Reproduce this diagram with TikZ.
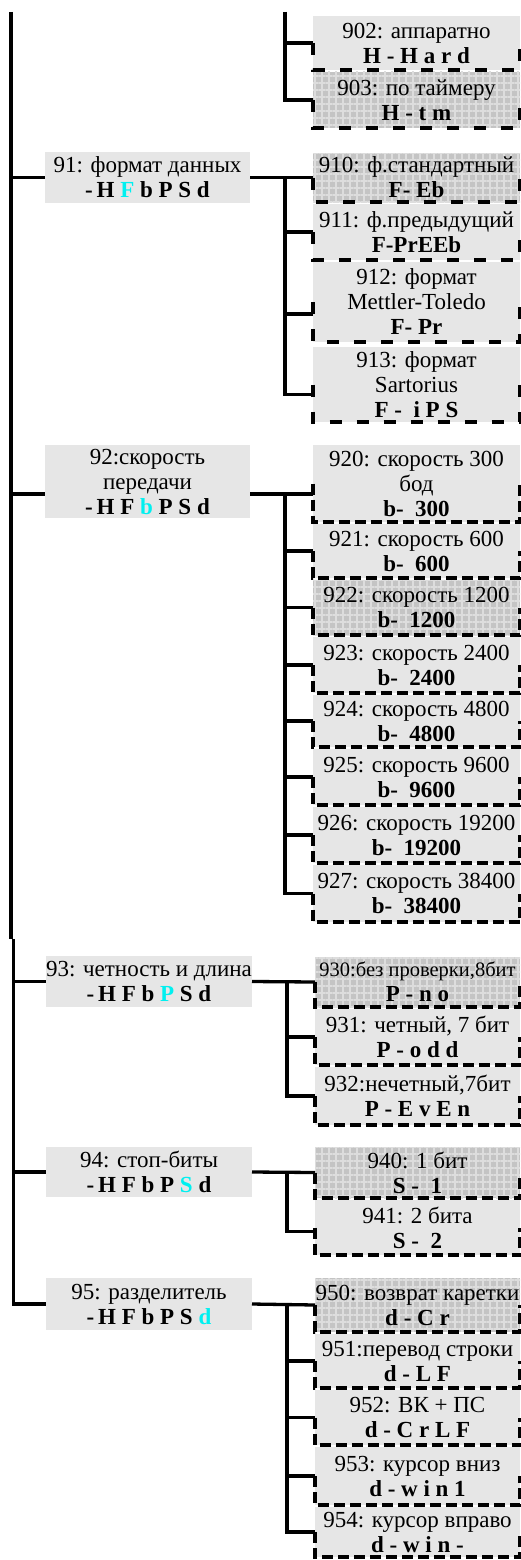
\documentclass[tikz,border=0pt]{standalone}
\usepackage{fontspec}
\setmainfont{Liberation Serif}
\usetikzlibrary{positioning,patterns.meta}
\definecolor{boxc}{HTML}{E6E6E6}
\definecolor{hatchc}{HTML}{C4C4C4}
\definecolor{gridc}{HTML}{DDDDDD}
\definecolor{selc}{HTML}{00F0F0}
\newcommand{\sel}[1]{\textcolor{selc}{#1}}
\tikzset{
  mbox/.style={fill=boxc, minimum width=205pt, inner sep=0pt, outer sep=0pt, align=center, font=\fontsize{23}{25}\selectfont},
  sbox/.style={mbox, minimum width=207pt},
  sboxb/.style={mbox, minimum width=205pt},
  hatch/.style={fill=hatchc, postaction={pattern={Hatch[angle=0,distance=7pt,line width=1.3pt]}, pattern color=gridc}},
  conn/.style={line width=3.3pt},
  dsparse/.style={line width=3.6pt, dash pattern=on 12pt off 15pt},
  ddense/.style={line width=3.6pt, dash pattern=on 11pt off 5pt},
}

\begin{document}
\begin{tikzpicture}[x=1pt, y=-1pt]
  \useasboundingbox (0,0) rectangle (521,1560);
  % main menu items
  \node[mbox, minimum height=51pt, anchor=north west] (m91) at (45,152) {91: формат данных\\\textbf{-\,H \sel{F} b P S d}};
  \node[mbox, minimum height=73pt, anchor=north west] (m92) at (45,445) {92:скорость\\передачи\\\textbf{-\,H F \sel{b} P S d}};
  \node[mbox, minimum height=51pt, minimum width=206pt, anchor=north west] (m93) at (46,956) {93: четность и длина\\\textbf{-\,H F b \sel{P} S d}};
  \node[mbox, minimum height=50pt, minimum width=206pt, anchor=north west] (m94) at (46,1147) {94: стоп-биты\\\textbf{-\,H F b P \sel{S} d}};
  \node[mbox, minimum height=52pt, minimum width=206pt, anchor=north west] (m95) at (46,1278) {95: разделитель\\\textbf{-\,H F b P S \sel{d}}};
  % 90x
  \node[sbox, minimum height=54pt, anchor=north west] (s902) at (313,16) {902: аппаратно\\\textbf{H - H a r d}};
  \node[sbox, hatch, minimum height=56pt, below=2pt of s902] (s903) {903: по таймеру\\\textbf{H - t m}};
  % 91x
  \node[sbox, hatch, minimum height=49pt, anchor=north west] (s910) at (313,153) {910: ф.стандартный\\\textbf{F- Eb}};
  \node[sbox, minimum height=56pt, below=2pt of s910] (s911) {911: ф.предыдущий\\\textbf{F-PrEEb}};
  \node[sbox, minimum height=80pt, below=2pt of s911] (s912) {912: формат\\Mettler-Toledo\\\textbf{F- Pr}};
  \node[sbox, minimum height=75pt, below=5pt of s912] (s913) {913: формат\\Sartorius\\\textbf{F -\ \ i P S}};
  % 92x
  \node[sbox, minimum height=77pt, anchor=north west] (s920) at (313,445) {920: скорость 300\\бод\\\textbf{b-\ \ 300}};
  \node[sbox, minimum height=54pt, below=2pt of s920] (s921) {921: скорость 600\\\textbf{b-\ \ 600}};
  \node[sbox, hatch, minimum height=55pt, below=2pt of s921] (s922) {922: скорость 1200\\\textbf{b-\ \ 1200}};
  \node[sbox, minimum height=56pt, below=2pt of s922] (s923) {923: скорость 2400\\\textbf{b-\ \ 2400}};
  \node[sbox, minimum height=52pt, below=2pt of s923] (s924) {924: скорость 4800\\\textbf{b-\ \ 4800}};
  \node[sbox, minimum height=56pt, below=2pt of s924] (s925) {925: скорость 9600\\\textbf{b-\ \ 9600}};
  \node[sbox, minimum height=56pt, below=2pt of s925] (s926) {926: скорость 19200\\\textbf{b-\ \ 19200}};
  \node[sbox, minimum height=57pt, below=2pt of s926] (s927) {927: скорость 38400\\\textbf{b-\ \ 38400}};
  % 93x
  \node[sboxb, hatch, minimum height=50pt, anchor=north west] (s930) at (315,957) {{\fontsize{20.5}{25}\selectfont 930:без проверки,8бит}\\\textbf{P - n o}};
  \node[sboxb, minimum height=56pt, below=2pt of s930] (s931) {931: четный, 7 бит\\\textbf{P - o d d}};
  \node[sboxb, minimum height=58pt, below=2pt of s931] (s932) {932:нечетный,7бит\\\textbf{P - E v E n}};
  % 94x
  \node[sboxb, hatch, minimum height=51pt, anchor=north west] (s940) at (315,1147) {940: 1 бит\\\textbf{S -\ \ 1}};
  \node[sboxb, minimum height=55pt, below=2pt of s940] (s941) {941: 2 бита\\\textbf{S -\ \ 2}};
  % 95x
  \node[sboxb, hatch, minimum height=54pt, anchor=north west] (s950) at (315,1278) {950: возврат каретки\\\textbf{d - C r}};
  \node[sboxb, minimum height=54pt, below=2pt of s950] (s951) {951:перевод строки\\\textbf{d - L F}};
  \node[sboxb, minimum height=55pt, below=2pt of s951] (s952) {952: ВК + ПС\\\textbf{d - C r L F}};
  \node[sboxb, minimum height=58pt, below=2pt of s952] (s953) {953: курсор вниз\\\textbf{d - w i n 1}};
  \node[sboxb, minimum height=50pt, below=2pt of s953] (s954) {954: курсор вправо\\\textbf{d - w i n -}};

  % dashed frames
  \foreach \n in {s902,s903,s910,s911,s912,s913}
    \draw[dsparse] (\n.west) |- (\n.south) -| (\n.east);
  \foreach \n in {s920,s921,s922,s923,s924,s925,s926,s927,s930,s931,s932,s940,s941,s950,s951,s952,s953,s954}
    \draw[ddense] (\n.west) |- (\n.south) -| (\n.east);

  % main trunk
  \coordinate (top) at (11,12);
  \coordinate (brk) at (11,939);
  \coordinate (brk2) at (13.5,939);
  \coordinate (r92) at ([yshift=-12.5pt]m92.west);
  \draw[conn] (top) -- (brk); \draw[conn] (brk2) |- (m95.west);
  \draw[conn] (top |- m91.west) -- (m91.west); \draw[conn] (top |- r92) -- (r92);
  \draw[conn] (brk2 |- m93.west) -- (m93.west); \draw[conn] (brk2 |- m94.west) -- (m94.west);

  % 90x branches
  \coordinate (j90) at (285,12);
  \draw[conn] (j90) |- (s902.west); \draw[conn] (j90) |- (s903.west);
  % 91x branches
  \coordinate (j91) at (285,177.5);
  \draw[conn] (m91.east) -- (s910.west);
  \draw[conn] (j91) |- (s911.west); \draw[conn] (j91) |- ([yshift=-12pt]s912.west);
  \draw[conn] (j91) |- ([yshift=-10pt]s913.west);
  % 92x branches
  \coordinate (j92) at (285,494);
  \draw[conn] ([yshift=-12.5pt]m92.east) -- ([yshift=-10.5pt]s920.west);
  \draw[conn] (j92) |- (s921.west); \draw[conn] (j92) |- (s922.west);
  \draw[conn] (j92) |- (s923.west); \draw[conn] (j92) |- (s924.west);
  \draw[conn] (j92) |- (s925.west); \draw[conn] (j92) |- (s926.west);
  \draw[conn] (j92) |- (s927.west);
  % 93x branches
  \coordinate (j93) at (287,982);
  \draw[conn] (m93.east) -- (s930.west);
  \draw[conn] (j93) |- (s931.west); \draw[conn] (j93) |- (s932.west);
  % 94x branches
  \coordinate (j94) at (287,1172);
  \draw[conn] (m94.east) -- (s940.west);
  \draw[conn] (j94) |- ([yshift=-4pt]s941.west);
  % 95x branches
  \coordinate (j95) at (287,1304);
  \draw[conn] (m95.east) -- (s950.west);
  \draw[conn] (j95) |- (s951.west); \draw[conn] (j95) |- (s952.west);
  \draw[conn] (j95) |- (s953.west); \draw[conn] (j95) |- (s954.west);
\end{tikzpicture}
\end{document}
